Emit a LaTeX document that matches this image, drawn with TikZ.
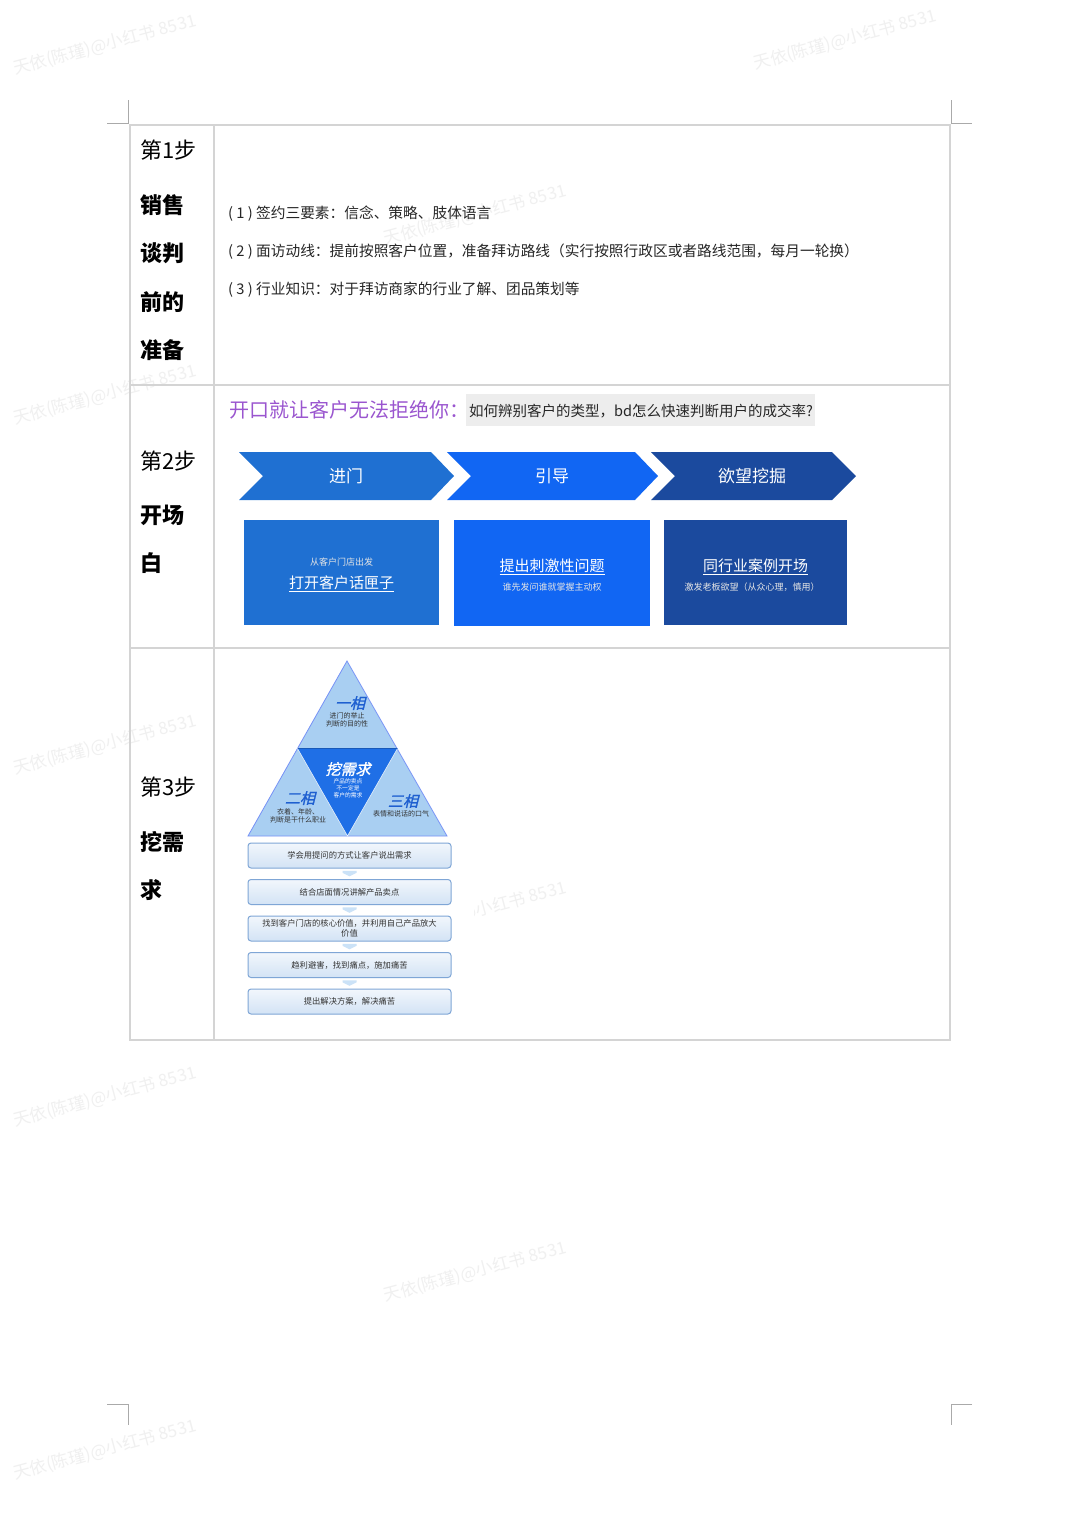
\documentclass[tikz,border=0pt]{standalone}
\usepackage{fontspec}
\setmainfont{Noto Sans CJK SC}
\newfontfamily\cjkit[FakeSlant=0.25,FakeBold=1.5]{Noto Sans CJK SC}
\usetikzlibrary{calc}
\newcommand{\fsz}[2]{\fontsize{#1}{#2}\selectfont}
\definecolor{gridc}{HTML}{D4D4D4}
\definecolor{cA}{HTML}{1F70D2}
\definecolor{cB}{HTML}{1166F3}
\definecolor{cC}{HTML}{1B4A9E}
\definecolor{purp}{HTML}{9A55CF}
\definecolor{pyl}{HTML}{A9CFF2}
\definecolor{pyd}{HTML}{1F6FE6}
\definecolor{pyt}{HTML}{1E5FD0}
\definecolor{flowb}{HTML}{7FA6D6}
\definecolor{flowf}{HTML}{D3E3F5}
\definecolor{wm}{HTML}{F0F0F0}
\tikzset{
  tblline/.style={draw=gridc, line width=1.3pt},
  cornermark/.style={draw=gridc!80!black, line width=0.9pt},
  steplbl/.style={anchor=west, inner sep=0, font=\fsz{22}{26}},
  stepbold/.style={anchor=west, inner sep=0, font=\fsz{22}{26}\bfseries},
  bodytxt/.style={anchor=west, inner sep=0, font=\fsz{14.7}{17}, text=black!85},
  chev/.style={inner sep=0, text=white, font=\fsz{17}{20}},
  bigtxt/.style={inner sep=0, text=white, font=\fsz{15}{18}},
  smalltxt/.style={inner sep=0, text=white!90!black, font=\fsz{9}{11}},
  pyhead/.style={inner sep=0, text=pyt, font=\fsz{15}{17}\cjkit},
  pysmall/.style={inner sep=0, align=center, font=\fsz{7}{8.5}, text=black!80},
  flowbox/.style={draw=flowb, line width=1pt, rounded corners=3pt, top color=white!70!flowf, bottom color=flowf,
     minimum width=203pt, minimum height=25pt, inner sep=1pt, align=center, font=\fsz{8.3}{9.8}, text=black!80},
  wmark/.style={inner sep=0, rotate=15, text=wm, font=\fsz{17}{20}}
}
\begin{document}
\begin{tikzpicture}[x=1pt,y=-1pt]
\useasboundingbox (0,0) rectangle (1080,1527);
\fill[white] (0,0) rectangle (1080,1527);
% watermarks
\node[wmark] (w1) at (105,45) {天依(陈瑾)@小红书 8531};
\node[wmark] (w2) at (845,40) {天依(陈瑾)@小红书 8531};
\node[wmark] (w3) at (475,215) {天依(陈瑾)@小红书 8531};
\node[wmark] (w4) at (105,395) {天依(陈瑾)@小红书 8531};
\node[wmark] (w5) at (105,745) {天依(陈瑾)@小红书 8531};
\node[wmark] (w6) at (475,912) {天依(陈瑾)@小红书 8531};
\node[wmark] (w7) at (105,1097) {天依(陈瑾)@小红书 8531};
\node[wmark] (w8) at (475,1272) {天依(陈瑾)@小红书 8531};
\node[wmark] (w9) at (105,1450) {天依(陈瑾)@小红书 8531};
% corner marks
\draw[cornermark] (128,100) -- (128,123) -- (107,123);
\draw[cornermark] (951,100) -- (951,123) -- (972,123);
\draw[cornermark] (107,1404) -- (128,1404) -- (128,1425);
\draw[cornermark] (972,1404) -- (951,1404) -- (951,1425);
% white ground of the pyramid figure
\fill[white] (240,655) rectangle (474,1022);
% table
\draw[tblline] (130,125) rectangle (950,1040);
\draw[tblline] (214,125) -- (214,1040);
\draw[tblline] (130,385) -- (950,385);
\draw[tblline] (130,648) -- (950,648);
% step 1
\node[steplbl] (s1) at (140,150) {第1步};
\node[stepbold] (s1a) at (140,205) {销售};
\node[stepbold] (s1b) at (140,253) {谈判};
\node[stepbold] (s1c) at (140,302) {前的};
\node[stepbold] (s1d) at (140,350) {准备};
\node[bodytxt] (t1) at (228,214) {( 1 ) 签约三要素：信念、策略、肢体语言};
\node[bodytxt] (t2) at (228,252) {( 2 ) 面访动线：提前按照客户位置，准备拜访路线（实行按照行政区或者路线范围，每月一轮换）};
\node[bodytxt] (t3) at (228,290) {( 3 ) 行业知识：对于拜访商家的行业了解、团品策划等};
% step 2
\node[steplbl] (s2) at (140,461) {第2步};
\node[stepbold] (s2a) at (140,515) {开场};
\node[stepbold] (s2b) at (140,563) {白};
\node[anchor=west, inner sep=0, text=purp, font=\fsz{20}{22}] (ttl) at (229,410) {开口就让客户无法拒绝你：};
\fill[black!7] (466,394) rectangle (815,426);
\node[anchor=west, inner sep=0, text=black!85, font=\fsz{14.5}{17}] (q) at (469,411) {如何辨别客户的类型，bd怎么快速判断用户的成交率?};
% chevrons
\fill[cA] (239,452) -- (431,452) -- (454,476) -- (431,500) -- (239,500) -- (263,476) -- cycle;
\fill[cB] (447,452) -- (635,452) -- (658,476) -- (635,500) -- (447,500) -- (471,476) -- cycle;
\fill[cC] (651,452) -- (832,452) -- (856,476) -- (832,500) -- (651,500) -- (675,476) -- cycle;
\node[chev] (c1) at (346,476) {进门};
\node[chev] (c2) at (552,476) {引导};
\node[chev] (c3) at (752,476) {欲望挖掘};
% boxes
\fill[cA] (244,520) rectangle (439,625);
\fill[cB] (454,520) rectangle (650,626);
\fill[cC] (664,520) rectangle (847,625);
\node[smalltxt] (b1s) at (341.5,562) {从客户门店出发};
\node[bigtxt] (b1t) at (341.5,584) {\underline{打开客户话匣子}};
\node[bigtxt] (b2t) at (552,567) {\underline{提出刺激性问题}};
\node[smalltxt] (b2s) at (552,587) {谁先发问谁就掌握主动权};
\node[bigtxt] (b3t) at (755.5,567) {\underline{同行业案例开场}};
\node[smalltxt] (b3s) at (752,587) {激发老板欲望（从众心理，慎用）};
% step 3
\node[steplbl] (s3) at (140,787) {第3步};
\node[stepbold] (s3a) at (140,842) {挖需};
\node[stepbold] (s3b) at (140,890) {求};
% pyramid
\coordinate (apex) at (347,661);
\coordinate (bl) at (248,836);
\coordinate (br) at (447,836);
\coordinate (ml) at (297.5,748.5);
\coordinate (mr) at (397.5,748.5);
\coordinate (bm) at (347.5,836);
\fill[pyl, draw=pyl!70!blue, line width=0.8pt] (apex) -- (br) -- (bl) -- cycle;
\fill[pyd] (ml) -- (mr) -- (bm) -- cycle;
\draw[pyd!80!black, line width=1.2pt] (ml) -- (mr);
\draw[white!80!pyl, line width=0.6pt] (ml) -- (bm) -- (mr);
\node[pyhead] (h1) at (350,703) {一相};
\node[pysmall] (h1s) at (347,720) {进门的举止\\判断的目的性};
\node[pyhead, text=white] (h0) at (348,769) {挖需求};
\node[pysmall, text=white, font=\fsz{5.8}{7}] (h0s) at (348,788) {产品的卖点\\不一定是\\客户的需求};
\node[pyhead] (h2) at (300,798) {二相};
\node[pysmall] (h2s) at (298,816) {衣着、年龄、\\判断是干什么职业};
\node[pyhead] (h3) at (403,801) {三相};
\node[pysmall] (h3s) at (401,814) {表情和说话的口气};
% flow
\node[flowbox] (f1) at (349.5,855.5) {学会用提问的方式让客户说出需求};
\node[flowbox] (f2) at (349.5,892) {结合店面情况讲解产品卖点};
\node[flowbox] (f3) at (349.5,928.5) {找到客户门店的核心价值，并利用自己产品放大\\价值};
\node[flowbox] (f4) at (349.5,965) {趋利避害，找到痛点，施加痛苦};
\node[flowbox] (f5) at (349.5,1001.5) {提出解决方案，解决痛苦};
\foreach \a/\b in {f1/f2,f2/f3,f3/f4,f4/f5}{
  \coordinate (m) at ($(\a.south)!0.5!(\b.north)$);
  \fill[pyl!60!white] ($(m)+(-7,-3)$) -- ($(m)+(7,-3)$) -- ($(m)+(7,-1)$) -- ($(m)+(0,2.5)$) -- ($(m)+(-7,-1)$) -- cycle;
}
\end{tikzpicture}
\end{document}
